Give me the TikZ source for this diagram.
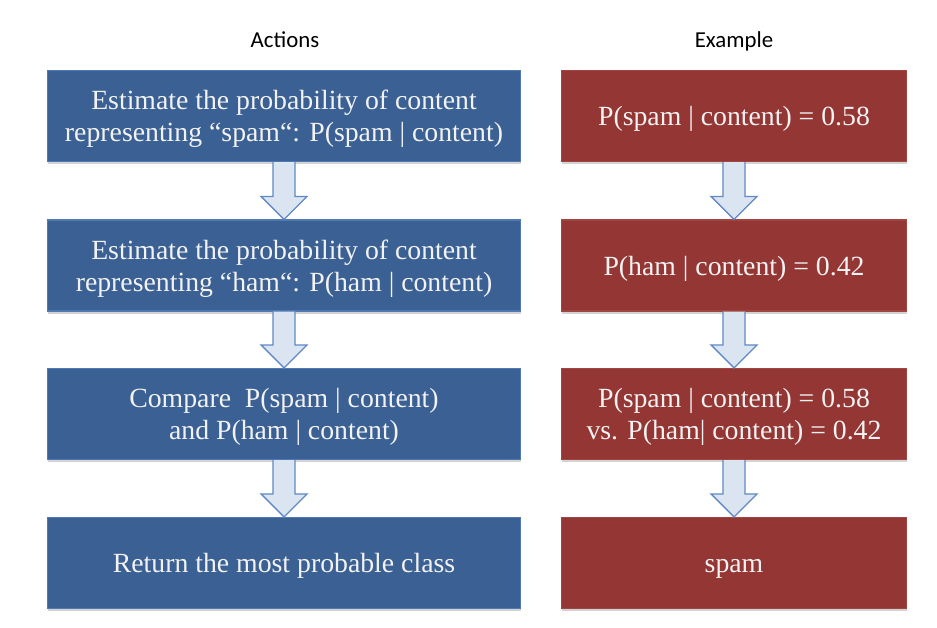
\documentclass[tikz,border=0pt]{standalone}
\usepackage{fontspec}
\setmainfont{Liberation Serif}
\newfontfamily\headfont{Carlito}
\usepackage{tikz,xcolor}
\usetikzlibrary{calc,shadows}
\definecolor{actblue}{RGB}{58,96,148}
\definecolor{actedge}{RGB}{79,120,180}
\definecolor{exred}{RGB}{148,54,52}
\definecolor{exedge}{RGB}{160,70,66}
\definecolor{arrfill}{RGB}{219,229,241}
\definecolor{arredge}{RGB}{96,137,197}
\definecolor{boxtext}{RGB}{242,242,242}
\tikzset{
  stepbox/.style={draw, line width=0.6pt, minimum height=1.82cm, align=center,
    text=boxtext, font=\fontsize{15.8}{18.2}\selectfont, text depth=0pt,
    drop shadow={shadow xshift=0.3pt, shadow yshift=-1.5pt, opacity=0.35}},
  actbox/.style={stepbox, fill=actblue, draw=actedge, minimum width=9.48cm},
  exbox/.style={stepbox, fill=exred, draw=exedge, minimum width=6.9cm},
  headtxt/.style={font=\headfont\fontsize{13}{15}\selectfont},
  flowarr/.style={fill=arrfill, draw=arredge, line width=0.8pt, line join=miter}
}
\newcommand{\flowarrow}[2]{%
  \draw[flowarr] ($(#1.south)+(-11,0)$) -- ($(#2.north)+(-11,-23)$)
    -- ($(#2.north)+(-23,-23)$) -- (#2.north) -- ($(#2.north)+(23,-23)$)
    -- ($(#2.north)+(11,-23)$) -- ($(#1.south)+(11,0)$);
}
\begin{document}
\begin{tikzpicture}[x=0.02cm,y=-0.02cm]
  \useasboundingbox (0,0) rectangle (937,627);
  % headers
  \node[headtxt] (acthead) at (285,40) {Actions};
  \node[headtxt] (exhead) at (734,41) {Example};
  % actions column
  \node[actbox] (a1) at (284,116) {Estimate the probability of content\\representing “spam“: P(spam | content)};
  \node[actbox] (a2) at (284,265.5) {Estimate the probability of content\\representing “ham“: P(ham | content)};
  \node[actbox] (a3) at (284,414) {Compare~ P(spam | content)\\and P(ham | content)};
  \node[actbox] (a4) at (284,563) {Return the most probable class};
  % example column
  \node[exbox] (e1) at (734,116) {P(spam | content) = 0.58};
  \node[exbox] (e2) at (734,265.5) {P(ham | content) = 0.42};
  \node[exbox] (e3) at (734,414) {P(spam | content) = 0.58\\vs. P(ham| content) = 0.42};
  \node[exbox, text height=10.5pt] (e4) at (734,563) {spam};
  % block arrows
  \foreach \i/\j in {a1/a2,a2/a3,a3/a4,e1/e2,e2/e3,e3/e4}{
    \flowarrow{\i}{\j}
  }
\end{tikzpicture}
\end{document}
